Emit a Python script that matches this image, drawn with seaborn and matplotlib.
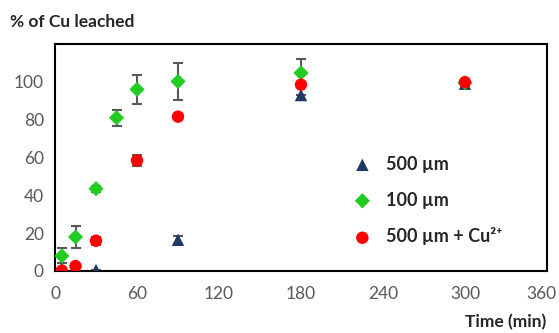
import matplotlib
matplotlib.use("Agg")
import matplotlib.pyplot as plt
import matplotlib.transforms as mtransforms
import seaborn as sns
import pandas as pd
import numpy as np

sns.set_style("white")
plt.rcParams["font.family"] = ["Lato", "DejaVu Sans"]

# 数据
t_500 = [5, 30, 90, 180, 300]
y_500 = [1, 0.5, 16.5, 93, 99]
e_500 = [3, 0, 2, 0, 0]

t_100 = [5, 15, 30, 45, 60, 90, 180, 300]
y_100 = [8, 18, 43.5, 81, 96, 100.2, 104.7, 99.5]
e_100 = [4, 6, 1.5, 4.3, 7.5, 9.6, 7.5, 0]

t_cu = [5, 15, 30, 60, 90, 180, 300]
y_cu = [0.2, 2.6, 16, 58.4, 81.6, 98.5, 99.8]
e_cu = [0, 0, 2, 3, 0, 0, 0]

labels = ["500 µm", "100 µm", "500 µm + Cu²⁺"]
colors = ["#1f3864", "#22cc22", "#ff0000"]
markers = ["^", "D", "o"]
sizes = [80, 60, 80]

x_ticks = [0, 60, 120, 180, 240, 300, 360]
y_ticks = [0, 20, 40, 60, 80, 100]

series = [(t_500, y_500, e_500), (t_100, y_100, e_100), (t_cu, y_cu, e_cu)]

fig = plt.figure(figsize=(5.59, 3.33), dpi=100)
ax = fig.add_axes([0.0984, 0.1862, 0.8801, 0.6817])

for (t, y, e), lab, col, mk, sz in zip(series, labels, colors, markers, sizes):
    ax.errorbar(t, y, yerr=e, fmt="none", ecolor="#595959", elinewidth=1.5,
                capsize=3.5, capthick=1.5, zorder=2)
    df = pd.DataFrame({"t": t, "y": y})
    sns.scatterplot(data=df, x="t", y="y", ax=ax, color=col, marker=mk, s=sz,
                    edgecolor="none", linewidth=0, label=lab, zorder=3)

ax.set_xlim(0, 360)
ax.set_ylim(0, 120)
ax.set_xticks(x_ticks)
ax.set_yticks(y_ticks)
ax.set_xlabel("")
ax.set_ylabel("")
ax.tick_params(axis="both", direction="out", length=5, width=1.5, colors="black",
               labelcolor="#595959", labelsize=12.5, pad=3)
ax.tick_params(axis="x", pad=6)
for sp in ax.spines.values():
    sp.set_visible(True)
    sp.set_color("black")
    sp.set_linewidth(1.5)

# 最后一个刻度标签往左挪一点，避免被裁掉
last = ax.get_xticklabels()[-1]
last.set_transform(last.get_transform() +
                   mtransforms.ScaledTranslation(-6 / 100, 0, fig.dpi_scale_trans))

leg = ax.legend(loc="upper left", bbox_to_anchor=(0.555, 0.58), frameon=False,
                labelspacing=1.05, handletextpad=0.3, markerscale=1.0,
                prop={"weight": "bold", "size": 13})

fig.text(0.018, 0.935, "% of Cu leached", fontsize=12.5, fontweight="bold",
         ha="left", va="center")
fig.text(0.978, 0.033, "Time (min)", fontsize=12.5, fontweight="bold",
         ha="right", va="center")

fig.savefig("out.png", dpi=100)
